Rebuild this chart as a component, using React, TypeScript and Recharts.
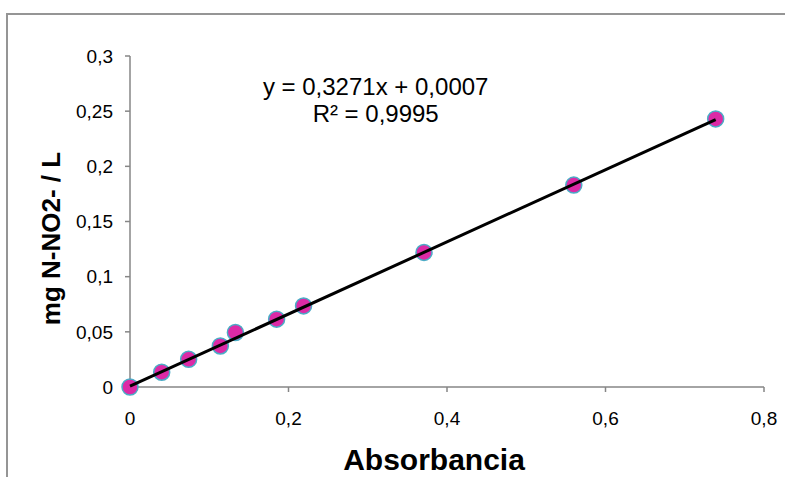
import React from 'react';
import { ScatterChart, Scatter, XAxis, YAxis, ReferenceDot } from 'recharts';

const absorbance = [0, 0.04, 0.074, 0.114, 0.133, 0.185, 0.219, 0.371, 0.56, 0.739];
const concentration = [0, 0.0134, 0.0251, 0.0372, 0.0494, 0.0615, 0.0735, 0.122, 0.183, 0.243];
const xTicks = [0, 0.2, 0.4, 0.6, 0.8];
const yTicks = [0, 0.05, 0.1, 0.15, 0.2, 0.25, 0.3];
const slope = 0.3271;
const intercept = 0.0007;
const equationText = 'y = 0,3271x + 0,0007';
const r2Text = 'R² = 0,9995';
const xTitle = 'Absorbancia';
const yTitle = 'mg N-NO2- / L';

const points = absorbance.map((x, i) => ({ x, y: concentration[i] }));
const xMin = Math.min(...absorbance);
const xMax = Math.max(...absorbance);
const trend = [
  { x: xMin, y: slope * xMin + intercept },
  { x: xMax, y: slope * xMax + intercept },
];

const FONT = '"Liberation Sans", Arial, sans-serif';
const fmt = (v: number) => String(v).replace('.', ',');

const Marker = (props: any) => {
  const { cx, cy } = props;
  if (cx == null || cy == null) return null;
  return <circle cx={cx} cy={cy} r={8} fill="#DC2AA6" stroke="#4BACC6" strokeWidth={1.5} />;
};

const NoShape = () => null;

const XTitle = (props: any) => {
  const vb = props.viewBox || {};
  return (
    <text x={vb.x + vb.width / 2 - 13} y={470} textAnchor="middle" fontFamily={FONT} fontWeight="bold" fontSize={30} fill="#000">
      {xTitle}
    </text>
  );
};

const YTitle = (props: any) => {
  const vb = props.viewBox || {};
  const cx = 60;
  const cy = vb.y + vb.height / 2 + 17;
  return (
    <text x={cx} y={cy} transform={`rotate(-90, ${cx}, ${cy})`} textAnchor="middle" fontFamily={FONT} fontWeight="bold" fontSize={26} fill="#000">
      {yTitle}
    </text>
  );
};

const EqLabel = (props: any) => {
  const vb = props.viewBox || {};
  const cx = vb.x + (vb.width || 0) / 2;
  const cy = vb.y + (vb.height || 0) / 2;
  return (
    <g>
      <text x={cx} y={cy - 5} textAnchor="middle" fontFamily={FONT} fontSize={24} fill="#000">{equationText}</text>
      <text x={cx} y={cy + 22} textAnchor="middle" fontFamily={FONT} fontSize={24} fill="#000">{r2Text}</text>
    </g>
  );
};

export default function App() {
  return (
    <div style={{ position: 'absolute', left: 0, top: 0, width: 785, height: 477, overflow: 'hidden', background: '#fff' }}>
      <div style={{ position: 'absolute', left: 6, top: 13, width: 900, height: 600, border: '2px solid #959595' }} />
      <div style={{ position: 'absolute', left: 0, top: 0 }}>
        <ScatterChart width={785} height={477} margin={{ top: 56, right: 21, bottom: 60, left: 0 }}>
          <XAxis
            type="number"
            dataKey="x"
            domain={[0, 0.8]}
            ticks={xTicks}
            tickFormatter={fmt}
            height={30}
            stroke="#868686"
            strokeWidth={1.5}
            tickSize={5}
            tickMargin={20}
            tick={{ fill: '#000', fontSize: 19, fontFamily: FONT }}
            label={<XTitle />}
          />
          <YAxis
            type="number"
            dataKey="y"
            domain={[0, 0.3]}
            ticks={yTicks}
            tickFormatter={fmt}
            width={130}
            stroke="#868686"
            strokeWidth={1.5}
            tickSize={5}
            tickMargin={12}
            tick={{ fill: '#000', fontSize: 19, fontFamily: FONT }}
            label={<YTitle />}
          />
          <ReferenceDot x={0.31} y={0.26} r={0} fill="none" stroke="none" label={<EqLabel />} />
          <Scatter data={points} shape={<Marker />} isAnimationActive={false} />
          <Scatter data={trend} line={{ stroke: '#000', strokeWidth: 3 }} shape={<NoShape />} isAnimationActive={false} />
        </ScatterChart>
      </div>
    </div>
  );
}
